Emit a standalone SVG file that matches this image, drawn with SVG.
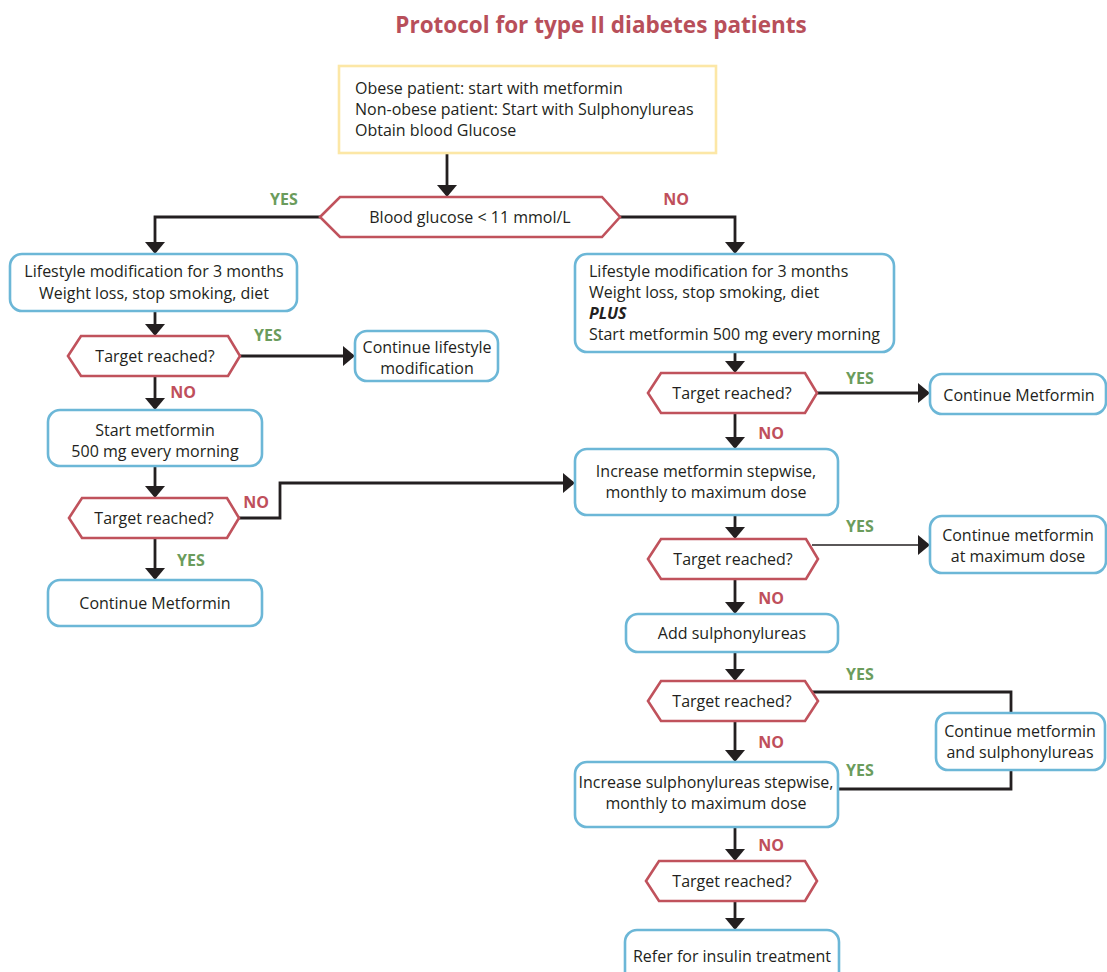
<svg xmlns="http://www.w3.org/2000/svg" width="1107" height="972" viewBox="0 0 1107 972">
<defs>
<style>
text{font-family:"Open Sans","Liberation Sans",sans-serif;fill:#231f20;font-size:16px}
.c{text-anchor:middle}
.t{font-size:22.5px;font-weight:bold;fill:#b84f5a;text-anchor:middle}
.yes{font-weight:bold;fill:#6b9c5c;text-anchor:middle}
.no{font-weight:bold;fill:#bf4f5b;text-anchor:middle}
.box{fill:#fff;stroke:#6cb7d7;stroke-width:2.6}
.start{fill:#fff;stroke:#fce7a6;stroke-width:2.6}
.hex{fill:#fff;stroke:#c0525c;stroke-width:2.6;stroke-linejoin:miter}
.ln{fill:none;stroke:#231f20;stroke-width:2.8}
.thin{fill:none;stroke:#231f20;stroke-width:1.6}
.arr{marker-end:url(#ah)}
</style>
<marker id="ah" markerUnits="userSpaceOnUse" viewBox="0 0 12 20" markerWidth="12" markerHeight="20" refX="10" refY="10" orient="auto">
<path d="M0,0 L12,10 L0,20 Z" fill="#231f20"/>
</marker>
</defs>
<rect width="1107" height="972" fill="#fff"/>
<text class="t" x="601" y="33">Protocol for type II diabetes patients</text>

<g id="connectors">
<path class="ln arr" d="M447,153 V195"/>
<path class="ln arr" d="M320,217 H155 V252"/>
<path class="ln arr" d="M620,217 H735 V252"/>
<path class="ln arr" d="M155,311 V334"/>
<path class="ln arr" d="M240,356 H353"/>
<path class="ln arr" d="M155,376 V408"/>
<path class="ln arr" d="M155,466 V496"/>
<path class="ln arr" d="M239,518 H280 V483 H573"/>
<path class="ln arr" d="M155,538 V578"/>
<path class="ln arr" d="M735,352 V371"/>
<path class="ln arr" d="M817,393 H928"/>
<path class="ln arr" d="M735,413 V447"/>
<path class="ln arr" d="M735,515 V537"/>
<path class="thin arr" d="M812,545 H928"/>
<path class="ln arr" d="M735,579 V612"/>
<path class="ln arr" d="M735,652 V679"/>
<path class="ln" d="M812,692 H1011 V713"/>
<path class="ln" d="M1011,770 V789 H838"/>
<path class="ln arr" d="M735,721 V760"/>
<path class="ln arr" d="M735,827 V859"/>
<path class="ln arr" d="M735,901 V928"/>
</g>

<g id="labels">
<text class="yes" x="284" y="205">YES</text>
<text class="no" x="676" y="205">NO</text>
<text class="yes" x="268" y="341">YES</text>
<text class="no" x="183" y="398">NO</text>
<text class="no" x="256" y="508">NO</text>
<text class="yes" x="191" y="566">YES</text>
<text class="yes" x="860" y="384">YES</text>
<text class="no" x="771" y="439">NO</text>
<text class="yes" x="860" y="532">YES</text>
<text class="no" x="771" y="604">NO</text>
<text class="yes" x="860" y="680">YES</text>
<text class="no" x="771" y="748">NO</text>
<text class="yes" x="860" y="776">YES</text>
<text class="no" x="771" y="851">NO</text>
</g>

<g id="start">
<rect class="start" x="339" y="66" width="377" height="87"/>
<text x="355" y="94">Obese patient: start with metformin</text>
<text x="355" y="115">Non-obese patient: Start with Sulphonylureas</text>
<text x="355" y="136">Obtain blood Glucose</text>
</g>

<g id="d-glucose">
<polygon class="hex" points="320,217 340,197 602,197 620,217 602,237 340,237"/>
<text class="c" x="470" y="223">Blood glucose &lt; 11 mmol/L</text>
</g>

<g id="l-lifestyle">
<rect class="box" x="10" y="254" width="287" height="57" rx="12"/>
<text class="c" x="154" y="277">Lifestyle modification for 3 months</text>
<text class="c" x="154" y="299">Weight loss, stop smoking, diet</text>
</g>

<g id="d-l1">
<polygon class="hex" points="68,356 81,336 228,336 240,356 228,376 81,376"/>
<text class="c" x="155" y="362">Target reached?</text>
</g>

<g id="l-continue-lifestyle">
<rect class="box" x="355" y="331" width="143" height="50" rx="12"/>
<text class="c" x="427" y="353">Continue lifestyle</text>
<text class="c" x="427" y="374">modification</text>
</g>

<g id="l-start-metformin">
<rect class="box" x="48" y="410" width="214" height="56" rx="12"/>
<text class="c" x="155" y="436">Start metformin</text>
<text class="c" x="155" y="457">500 mg every morning</text>
</g>

<g id="d-l2">
<polygon class="hex" points="69,518 82,498 227,498 239,518 227,538 82,538"/>
<text class="c" x="154" y="524">Target reached?</text>
</g>

<g id="l-continue-metformin">
<rect class="box" x="48" y="580" width="214" height="46" rx="12"/>
<text class="c" x="155" y="609">Continue Metformin</text>
</g>

<g id="r-lifestyle-plus">
<rect class="box" x="575" y="254" width="319" height="98" rx="12"/>
<text x="589" y="277">Lifestyle modification for 3 months</text>
<text x="589" y="298">Weight loss, stop smoking, diet</text>
<text x="589" y="319" font-weight="bold" font-style="italic">PLUS</text>
<text x="589" y="340">Start metformin 500 mg every morning</text>
</g>

<g id="d-r1">
<polygon class="hex" points="648,393 661,373 805,373 817,393 805,413 661,413"/>
<text class="c" x="732" y="399">Target reached?</text>
</g>

<g id="r-continue-metformin">
<rect class="box" x="930" y="374" width="176" height="40" rx="12"/>
<text class="c" x="1019" y="401">Continue Metformin</text>
</g>

<g id="r-increase-metformin">
<rect class="box" x="575" y="449" width="263" height="66" rx="12"/>
<text class="c" x="706" y="477">Increase metformin stepwise,</text>
<text class="c" x="706" y="498">monthly to maximum dose</text>
</g>

<g id="d-r2">
<polygon class="hex" points="648,559 661,539 806,539 818,559 806,579 661,579"/>
<text class="c" x="733" y="565">Target reached?</text>
</g>

<g id="r-continue-max">
<rect class="box" x="930" y="516" width="176" height="57" rx="12"/>
<text class="c" x="1018" y="541">Continue metformin</text>
<text class="c" x="1018" y="562">at maximum dose</text>
</g>

<g id="r-add-sulph">
<rect class="box" x="626" y="614" width="212" height="38" rx="12"/>
<text class="c" x="732" y="639">Add sulphonylureas</text>
</g>

<g id="d-r3">
<polygon class="hex" points="648,701 661,681 805,681 818,701 805,721 661,721"/>
<text class="c" x="732" y="707">Target reached?</text>
</g>

<g id="r-continue-both">
<rect class="box" x="936" y="713" width="169" height="57" rx="12"/>
<text class="c" x="1020" y="737">Continue metformin</text>
<text class="c" x="1020" y="758">and sulphonylureas</text>
</g>

<g id="r-increase-sulph">
<rect class="box" x="575" y="762" width="263" height="65" rx="12"/>
<text class="c" x="706" y="788">Increase sulphonylureas stepwise,</text>
<text class="c" x="706" y="809">monthly to maximum dose</text>
</g>

<g id="d-r5">
<polygon class="hex" points="646,881 659,861 805,861 817,881 805,901 659,901"/>
<text class="c" x="732" y="887">Target reached?</text>
</g>

<g id="r-refer">
<rect class="box" x="625" y="930" width="214" height="54" rx="12"/>
<text class="c" x="732" y="962">Refer for insulin treatment</text>
</g>
</svg>
